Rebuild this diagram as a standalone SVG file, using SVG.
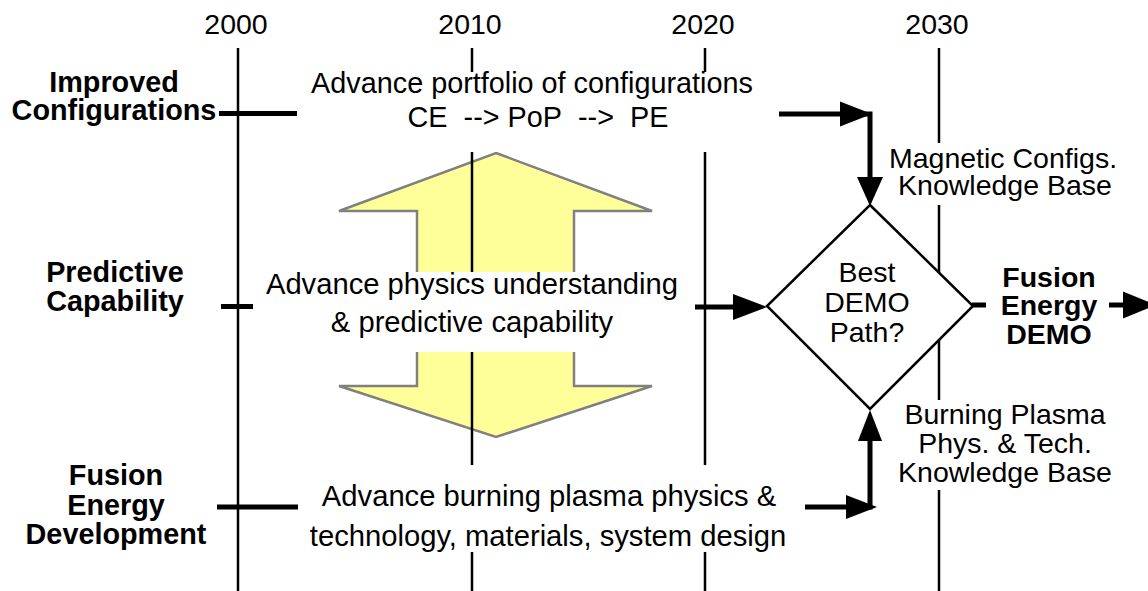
<svg xmlns="http://www.w3.org/2000/svg" width="1148" height="591" viewBox="0 0 1148 591">
  <style>
    text { font-family: "Liberation Sans", Arial, sans-serif; fill: #000; }
    .yr { font-size: 28.5px; text-anchor: middle; }
    .lbl { font-size: 28.8px; font-weight: bold; text-anchor: middle; }
    .txt { font-size: 28.5px; text-anchor: middle; }
    .task { font-size: 29.2px; }
    .year-line { stroke: #000; stroke-width: 2.5; fill: none; }
    .bar { stroke: #000; stroke-width: 5; fill: none; }
    .head { fill: #000; stroke: none; }
    .box { fill: #fff; stroke: none; }
  </style>

  <!-- double-headed block arrow between the physics rows -->
  <g id="exchange-arrow">
    <polygon points="496,153 652,211 574,211 574,386 652,386 496,437 339,386 417,386 417,211 339,211"
             fill="#ffff99" stroke="#808080" stroke-width="2.5" stroke-linejoin="miter"/>
  </g>

  <!-- timeline -->
  <g id="timeline">
    <text class="yr" x="236" y="34">2000</text>
    <text class="yr" x="470" y="34">2010</text>
    <text class="yr" x="703" y="34">2020</text>
    <text class="yr" x="937" y="34">2030</text>
    <line class="year-line" x1="238" y1="48" x2="238" y2="591"/>
    <line class="year-line" x1="472" y1="48" x2="472" y2="591"/>
    <line class="year-line" x1="705" y1="48" x2="705" y2="591"/>
    <line class="year-line" x1="939" y1="48" x2="939" y2="591"/>
  </g>

  <!-- row labels -->
  <g id="row-configurations">
    <text class="lbl"><tspan x="114" y="91.5">Improved</tspan><tspan x="114" y="120">Configurations</tspan></text>
  </g>
  <g id="row-predictive">
    <text class="lbl"><tspan x="115" y="282">Predictive</tspan><tspan x="115" y="311">Capability</tspan></text>
  </g>
  <g id="row-fusion-development">
    <text class="lbl"><tspan x="116" y="485">Fusion</tspan><tspan x="116" y="514.5">Energy</tspan><tspan x="116" y="544">Development</tspan></text>
  </g>

  <!-- activity boxes -->
  <g id="task-configurations">
    <rect class="box" x="297" y="72" width="482" height="80"/>
    <text class="txt" style="font-size:28.8px"><tspan x="532" y="93">Advance portfolio of configurations</tspan><tspan x="538" y="127">CE&#160;&#160;--&gt; PoP&#160;&#160;--&gt;&#160;&#160;PE</tspan></text>
  </g>
  <g id="task-physics">
    <rect class="box" x="254" y="272" width="441" height="80"/>
    <text class="txt task"><tspan x="472" y="294">Advance physics understanding</tspan><tspan x="472" y="332">&amp; predictive capability</tspan></text>
  </g>
  <g id="task-burning-plasma">
    <rect class="box" x="298" y="465" width="507" height="87"/>
    <text class="txt task"><tspan x="549" y="506">Advance burning plasma physics &amp;</tspan><tspan x="548" y="546">technology, materials, system design</tspan></text>
  </g>

  <!-- knowledge bases -->
  <g id="kb-magnetic">
    <rect class="box" x="886" y="143" width="236" height="62"/>
    <text class="txt"><tspan x="1003" y="168">Magnetic Configs.</tspan><tspan x="1005" y="194.5">Knowledge Base</tspan></text>
  </g>
  <g id="kb-burning-plasma">
    <rect class="box" x="893" y="400" width="224" height="90"/>
    <text class="txt"><tspan x="1005" y="424">Burning Plasma</tspan><tspan x="1005" y="453">Phys. &amp; Tech.</tspan><tspan x="1005" y="482">Knowledge Base</tspan></text>
  </g>

  <!-- connectors -->
  <g id="connectors">
    <line class="bar" x1="219" y1="113.5" x2="297" y2="113.5"/>
    <line class="bar" x1="221" y1="306.5" x2="253" y2="306.5"/>
    <line class="bar" x1="217" y1="507" x2="298" y2="507"/>

    <!-- configurations to decision -->
    <polyline class="bar" points="779,114 870,114 870,180"/>
    <polygon class="head" points="840,101.5 872,114 840,126.5"/>
    <polygon class="head" points="857,177 883,177 870,206"/>

    <!-- physics to decision -->
    <line class="bar" x1="695" y1="307" x2="736" y2="307"/>
    <polygon class="head" points="733,294 767,307 733,320"/>

    <!-- burning plasma to decision -->
    <polyline class="bar" points="805,507 870,507 870,438"/>
    <polygon class="head" points="846,495 877,507 846,519"/>
    <polygon class="head" points="858,441 882,441 870,410"/>

    <!-- decision to DEMO -->
    <line class="bar" x1="972" y1="305" x2="986" y2="305"/>
    <line class="bar" x1="1109" y1="305" x2="1126" y2="305"/>
    <polygon class="head" points="1123,291.5 1156,305 1123,318.5"/>
  </g>

  <!-- decision -->
  <g id="decision">
    <polygon points="870,205 973,306 870,409 767,306" fill="#fff" stroke="#000" stroke-width="2.5"/>
    <text class="txt"><tspan x="867" y="282">Best</tspan><tspan x="867" y="312">DEMO</tspan><tspan x="867" y="342">Path?</tspan></text>
  </g>

  <!-- outcome -->
  <g id="outcome-demo">
    <text class="lbl" style="font-size:28.5px"><tspan x="1049" y="287">Fusion</tspan><tspan x="1049" y="315">Energy</tspan><tspan x="1049" y="344">DEMO</tspan></text>
  </g>
</svg>
